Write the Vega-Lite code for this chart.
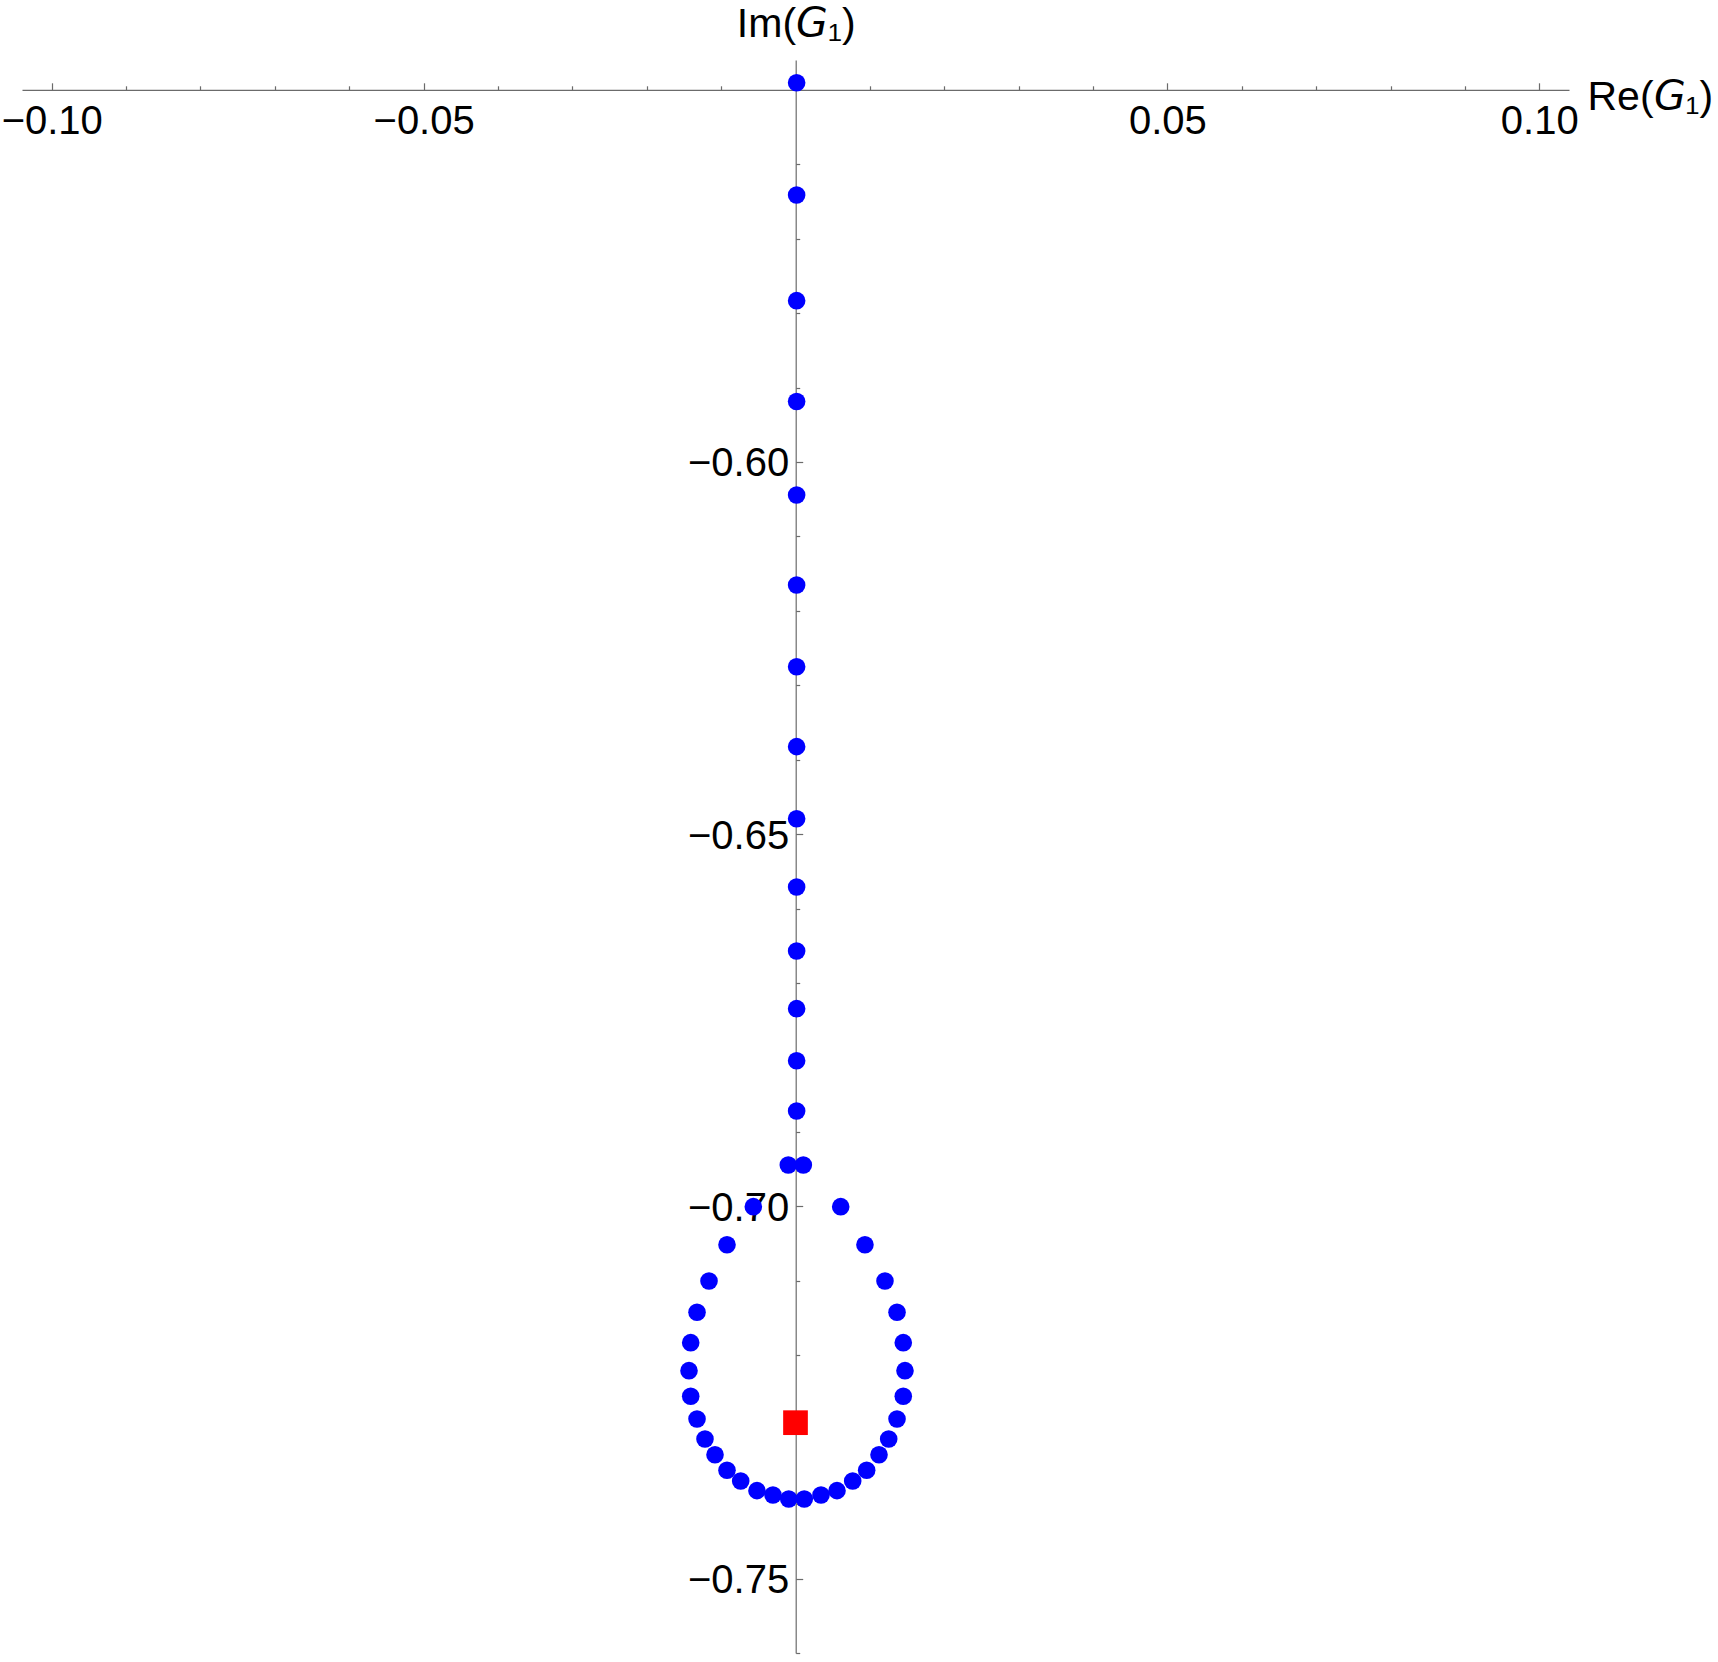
{
  "$schema": "https://vega.github.io/schema/vega-lite/v6.json",
  "width": 1547,
  "height": 1593,
  "autosize": "none",
  "padding": {"left": 22, "top": 60, "right": 149, "bottom": 9},
  "background": "white",
  "config": {
    "view": {"stroke": null},
    "axis": {
      "grid": false,
      "domainColor": "#6b6b6b",
      "domainWidth": 1.2,
      "tickColor": "#6b6b6b",
      "tickWidth": 1.2,
      "labelFont": "Liberation Sans",
      "labelFontSize": 40,
      "labelColor": "#000000",
      "labelFlush": false,
      "labelOverlap": false,
      "titleFont": "Liberation Sans",
      "titleFontSize": 41,
      "titleFontWeight": "normal",
      "titleColor": "#000000"
    }
  },
  "datasets": {
    "pts": [
      {"re": 0.00015, "im": -0.54905},
      {"re": 0.00015, "im": -0.56413},
      {"re": 0.00015, "im": -0.57833},
      {"re": 0.00015, "im": -0.59187},
      {"re": 0.00015, "im": -0.60443},
      {"re": 0.00015, "im": -0.61652},
      {"re": 0.00015, "im": -0.6275},
      {"re": 0.00015, "im": -0.63824},
      {"re": 0.00015, "im": -0.64792},
      {"re": 0.00015, "im": -0.65709},
      {"re": 0.00015, "im": -0.66569},
      {"re": 0.00015, "im": -0.67344},
      {"re": 0.00015, "im": -0.68043},
      {"re": 0.00015, "im": -0.68718},
      {"re": -0.00097, "im": -0.69444},
      {"re": 0.00105, "im": -0.69444},
      {"re": -0.00567, "im": -0.70004},
      {"re": 0.00608, "im": -0.70004},
      {"re": -0.00921, "im": -0.70515},
      {"re": 0.00934, "im": -0.70515},
      {"re": -0.01163, "im": -0.71002},
      {"re": 0.01203, "im": -0.71002},
      {"re": -0.01324, "im": -0.71423},
      {"re": 0.01365, "im": -0.71423},
      {"re": -0.01409, "im": -0.71831},
      {"re": 0.01449, "im": -0.71831},
      {"re": -0.01432, "im": -0.72207},
      {"re": 0.01472, "im": -0.72207},
      {"re": -0.01409, "im": -0.72551},
      {"re": 0.01449, "im": -0.72551},
      {"re": -0.01324, "im": -0.72856},
      {"re": 0.01365, "im": -0.72856},
      {"re": -0.01217, "im": -0.73125},
      {"re": 0.01253, "im": -0.73125},
      {"re": -0.01082, "im": -0.73336},
      {"re": 0.01123, "im": -0.73336},
      {"re": -0.00921, "im": -0.73545},
      {"re": 0.00957, "im": -0.73545},
      {"re": -0.00737, "im": -0.73689},
      {"re": 0.00769, "im": -0.73689},
      {"re": -0.00518, "im": -0.73819},
      {"re": 0.00558, "im": -0.73819},
      {"re": -0.00303, "im": -0.73877},
      {"re": 0.00343, "im": -0.73877},
      {"re": -0.00091, "im": -0.73931},
      {"re": 0.00118, "im": -0.73931}
    ],
    "ref": [
      {"re": 0.0, "im": -0.72906}
    ]
  },
  "layer": [
    {
      "data": {"name": "pts"},
      "mark": {"type": "point", "shape": "circle", "filled": true, "size": 310, "color": "#0000ff", "opacity": 1, "strokeWidth": 0},
      "encoding": {
        "x": {
          "field": "re", "type": "quantitative",
          "scale": {"domain": [-0.104, 0.104], "nice": false, "zero": false},
          "axis": {
            "orient": "bottom",
            "offset": -1563.2,
            "values": [-0.1, -0.05, 0.05, 0.1],
            "format": ".2f",
            "tickSize": -7,
            "labelPadding": 19,
            "title": "Re(𝘎₁)",
            "titleAngle": 0,
            "titleX": 1565,
            "titleY": 20,
            "titleAlign": "left",
            "titleBaseline": "alphabetic"
          }
        },
        "y": {
          "field": "im", "type": "quantitative",
          "scale": {"domain": [-0.76, -0.546], "nice": false, "zero": false},
          "axis": {
            "orient": "left",
            "offset": -773.7,
            "values": [-0.6, -0.65, -0.7, -0.75],
            "format": ".2f",
            "tickSize": -7,
            "labelPadding": 14,
            "labelOffset": 2,
            "title": "Im(𝘎₁)",
            "titleAngle": 0,
            "titleX": 0,
            "titleY": -24,
            "titleAlign": "center",
            "titleBaseline": "alphabetic"
          }
        }
      }
    },
    {
      "data": {"name": "ref"},
      "mark": {"type": "point", "shape": "square", "filled": true, "size": 610, "color": "#ff0000", "opacity": 1, "strokeWidth": 0},
      "encoding": {
        "x": {
          "field": "re", "type": "quantitative",
          "scale": {"domain": [-0.104, 0.104], "nice": false, "zero": false},
          "axis": {
            "orient": "bottom",
            "offset": -1563.2,
            "values": [-0.09, -0.08, -0.07, -0.06, -0.04, -0.03, -0.02, -0.01, 0.01, 0.02, 0.03, 0.04, 0.06, 0.07, 0.08, 0.09],
            "labels": false,
            "domain": false,
            "tickSize": -4,
            "title": null
          }
        },
        "y": {
          "field": "im", "type": "quantitative",
          "scale": {"domain": [-0.76, -0.546], "nice": false, "zero": false},
          "axis": {
            "orient": "left",
            "offset": -773.7,
            "values": [-0.56, -0.57, -0.58, -0.59, -0.61, -0.62, -0.63, -0.64, -0.66, -0.67, -0.68, -0.69, -0.71, -0.72, -0.73, -0.74, -0.76],
            "labels": false,
            "domain": false,
            "tickSize": -4,
            "title": null
          }
        }
      }
    }
  ],
  "resolve": {"axis": {"x": "independent", "y": "independent"}}
}
